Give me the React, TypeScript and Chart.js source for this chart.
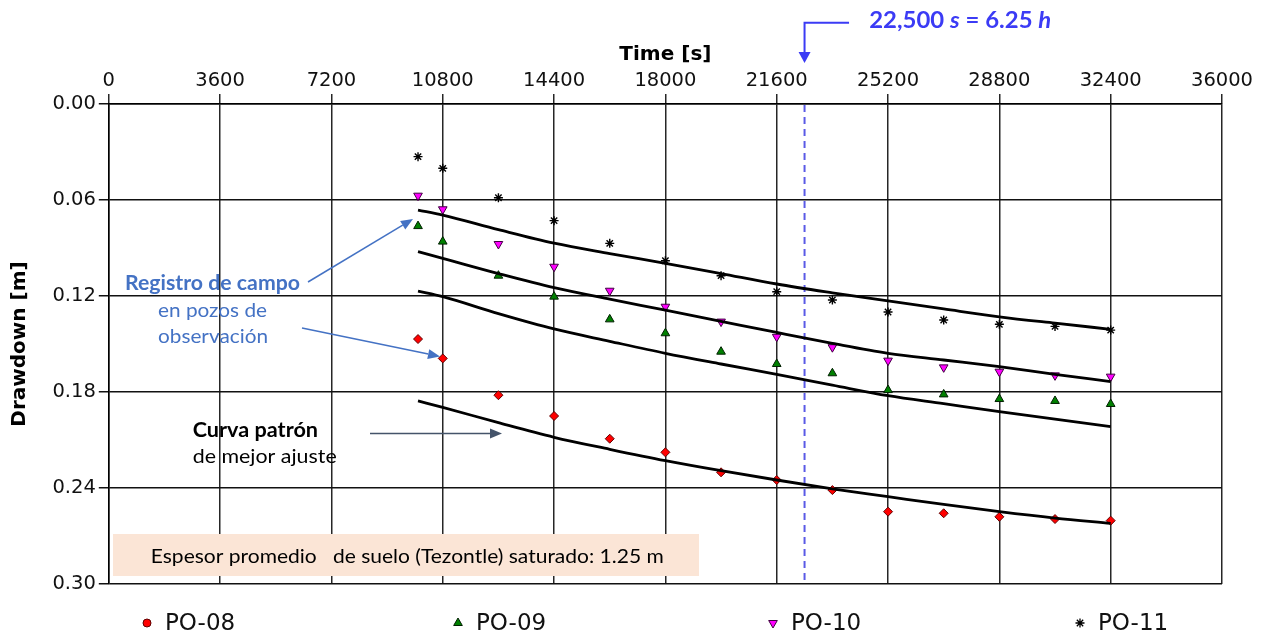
import React, { useEffect, useRef } from 'react';
import { Chart, registerables } from 'chart.js';
import { drawPoint } from 'chart.js/helpers';

Chart.register(...registerables);

// ---- Data ----
const obsTimes = [10000, 10800, 12600, 14400, 16200, 18000, 19800, 21600, 23400, 25200, 27000, 28800, 30600, 32400];
const po08 = [0.1469, 0.159, 0.182, 0.195, 0.2092, 0.2177, 0.2302, 0.235, 0.2413, 0.2548, 0.2558, 0.258, 0.2594, 0.2604];
const po09 = [0.0763, 0.086, 0.1073, 0.1204, 0.1346, 0.1433, 0.1548, 0.1625, 0.1683, 0.1788, 0.1815, 0.1844, 0.1856, 0.1875];
const po10 = [0.0573, 0.0658, 0.0875, 0.1017, 0.1167, 0.1267, 0.136, 0.1455, 0.152, 0.1604, 0.1646, 0.1673, 0.1696, 0.1704];
const po11 = [0.0329, 0.0402, 0.0586, 0.0729, 0.0871, 0.098, 0.1073, 0.1173, 0.1225, 0.130, 0.135, 0.1377, 0.139, 0.1413];

const curveTimes = [10000, 10800, 12600, 14400, 16200, 18000, 19800, 21600, 23400, 25200, 27000, 28800, 30600, 32400];
const curve1 = [0.0663, 0.0694, 0.0785, 0.087, 0.0935, 0.0996, 0.106, 0.1125, 0.118, 0.1231, 0.1281, 0.133, 0.137, 0.1408];
const curve2 = [0.0923, 0.0965, 0.106, 0.1148, 0.122, 0.1288, 0.1358, 0.1428, 0.1496, 0.1558, 0.160, 0.1642, 0.169, 0.1735];
const curve3 = [0.1169, 0.1204, 0.131, 0.1406, 0.1483, 0.1558, 0.1625, 0.169, 0.1757, 0.1823, 0.1873, 0.1923, 0.197, 0.2017];
const curve4 = [0.1856, 0.1896, 0.1992, 0.2083, 0.2158, 0.2229, 0.2292, 0.235, 0.2405, 0.2454, 0.2503, 0.2548, 0.2588, 0.2621];

const xTicks = [0, 3600, 7200, 10800, 14400, 18000, 21600, 25200, 28800, 32400, 36000];
const yTicks = [0, 0.06, 0.12, 0.18, 0.24, 0.30];
const markerTime = 22500;

const seriesNames = ['PO-08', 'PO-09', 'PO-10', 'PO-11'];

const TICK_FONT = 'DejaVu Sans';
const NOTE_FONT = 'Lato';

function pts(xs: number[], ys: number[]) {
  return xs.map((x, i) => ({ x, y: ys[i] }));
}

function drawArrow(ctx: CanvasRenderingContext2D, x1: number, y1: number, x2: number, y2: number, color: string, lw: number, headLen: number, headHalf: number) {
  const ang = Math.atan2(y2 - y1, x2 - x1);
  const bx = x2 - Math.cos(ang) * headLen;
  const by = y2 - Math.sin(ang) * headLen;
  ctx.save();
  ctx.strokeStyle = color;
  ctx.fillStyle = color;
  ctx.lineWidth = lw;
  ctx.beginPath();
  ctx.moveTo(x1, y1);
  ctx.lineTo(bx, by);
  ctx.stroke();
  ctx.beginPath();
  ctx.moveTo(x2, y2);
  ctx.lineTo(bx + Math.sin(ang) * headHalf, by - Math.cos(ang) * headHalf);
  ctx.lineTo(bx - Math.sin(ang) * headHalf, by + Math.cos(ang) * headHalf);
  ctx.closePath();
  ctx.fill();
  ctx.restore();
}

function fitText(ctx: CanvasRenderingContext2D, text: string, x: number, baseY: number, width: number, font: string, color: string) {
  ctx.save();
  ctx.font = font;
  ctx.fillStyle = color;
  ctx.textAlign = 'left';
  ctx.textBaseline = 'alphabetic';
  const w = ctx.measureText(text).width;
  ctx.translate(x, baseY);
  ctx.scale(width / w, 1);
  ctx.fillText(text, 0, 0);
  ctx.restore();
}

const annotationPlugin = {
  id: 'annotations',
  beforeDatasetsDraw(chart: any) {
    const { ctx, chartArea: ca, scales } = chart;
    const xm = scales.x.getPixelForValue(markerTime);
    ctx.save();
    ctx.strokeStyle = '#5a5ae6';
    ctx.lineWidth = 2;
    ctx.setLineDash([7, 5]);
    ctx.beginPath();
    ctx.moveTo(xm, ca.top + 1);
    ctx.lineTo(xm, ca.bottom);
    ctx.stroke();
    ctx.restore();
  },
  afterDatasetsDraw(chart: any) {
    const { ctx, chartArea: ca, scales } = chart;
    const P = (x: number, y: number): [number, number] => [x - 108.8 + ca.left, y - 104 + ca.top];
    const xm = scales.x.getPixelForValue(markerTime);

    // Top annotation arrow
    const blue = '#3b3bf5';
    ctx.save();
    ctx.strokeStyle = blue;
    ctx.fillStyle = blue;
    ctx.lineWidth = 2;
    ctx.beginPath();
    ctx.moveTo(xm + 44.5, 22.7);
    ctx.lineTo(xm, 22.7);
    ctx.lineTo(xm, 54);
    ctx.stroke();
    ctx.beginPath();
    ctx.moveTo(xm - 6, 52);
    ctx.lineTo(xm + 6, 52);
    ctx.lineTo(xm, 63);
    ctx.closePath();
    ctx.fill();
    ctx.restore();

    // Top annotation text: 22,500 s = 6.25 h
    const segs: [string, string][] = [
      ['22,500 ', `bold 22px ${NOTE_FONT}`],
      ['s', `italic bold 22px ${NOTE_FONT}`],
      [' = 6.25 ', `bold 22px ${NOTE_FONT}`],
      ['h', `italic bold 22px ${NOTE_FONT}`],
    ];
    ctx.save();
    let total = 0;
    const widths = segs.map(([t, f]) => { ctx.font = f; const w = ctx.measureText(t).width; total += w; return w; });
    const targetW = 182;
    const sc = targetW / total;
    ctx.translate(xm + 64.7, 28.3);
    ctx.scale(sc, 1);
    ctx.fillStyle = blue;
    ctx.textBaseline = 'alphabetic';
    let cx = 0;
    segs.forEach(([t, f], i) => { ctx.font = f; ctx.fillText(t, cx, 0); cx += widths[i]; });
    ctx.restore();

    // Field record annotation
    const noteBlue = '#4472c4';
    let p = P(125, 290);
    fitText(ctx, 'Registro de campo', p[0], p[1], 175, `bold 21px ${NOTE_FONT}`, noteBlue);
    p = P(158, 317.3);
    fitText(ctx, 'en pozos de', p[0], p[1], 109, `20px ${NOTE_FONT}`, noteBlue);
    p = P(158, 343.3);
    fitText(ctx, 'observación', p[0], p[1], 110, `20px ${NOTE_FONT}`, noteBlue);

    let a = P(308, 282), b = P(413, 219);
    drawArrow(ctx, a[0], a[1], b[0], b[1], noteBlue, 1.5, 12, 5);
    a = P(302, 328); b = P(440, 356.5);
    drawArrow(ctx, a[0], a[1], b[0], b[1], noteBlue, 1.5, 12, 5);

    // Type-curve annotation
    p = P(192.7, 436.7);
    fitText(ctx, 'Curva patrón', p[0], p[1], 125.3, `bold 21px ${NOTE_FONT}`, '#000');
    p = P(192.7, 462.7);
    fitText(ctx, 'de mejor ajuste', p[0], p[1], 144, `20px ${NOTE_FONT}`, '#000');
    a = P(370, 433.5); b = P(502, 433.5);
    drawArrow(ctx, a[0], a[1], b[0], b[1], '#44546a', 1.5, 12, 5);

    // Info box
    const b1 = P(113, 534), b2 = P(699, 576);
    ctx.save();
    ctx.fillStyle = '#fbe5d6';
    ctx.fillRect(b1[0], b1[1], b2[0] - b1[0], b2[1] - b1[1]);
    ctx.restore();
    p = P(150.8, 563.3);
    fitText(ctx, 'Espesor promedio   de suelo (Tezontle) saturado: 1.25 m', p[0], p[1], 513, `20px ${NOTE_FONT}`, '#000');

    // Legend
    const ly = ca.bottom + 39;
    const lx = [147, 458, 773, 1080];
    const styles = [
      { pointStyle: 'circle', radius: 4, rotation: 0, borderWidth: 1, fill: '#ff0000', stroke: '#600000' },
      { pointStyle: 'triangle', radius: 5, rotation: 0, borderWidth: 1, fill: '#008000', stroke: '#002000' },
      { pointStyle: 'triangle', radius: 5, rotation: 180, borderWidth: 1, fill: '#ff00ff', stroke: '#400040' },
      { pointStyle: 'star', radius: 4.5, rotation: 0, borderWidth: 1.3, fill: '#000', stroke: '#000' },
    ];
    ctx.save();
    seriesNames.forEach((name, i) => {
      const s = styles[i];
      const x = lx[i] - 108.8 + ca.left;
      ctx.fillStyle = s.fill;
      ctx.strokeStyle = s.stroke;
      ctx.lineWidth = s.borderWidth;
      drawPoint(ctx, { pointStyle: s.pointStyle, radius: s.radius, rotation: s.rotation, borderWidth: s.borderWidth } as any, x, ly);
      ctx.font = `23px ${TICK_FONT}`;
      ctx.fillStyle = '#111';
      ctx.textBaseline = 'middle';
      ctx.textAlign = 'left';
      ctx.fillText(name, x + 18, ly + 1);
    });
    ctx.restore();
  },
};

export default function App() {
  const canvasRef = useRef<HTMLCanvasElement | null>(null);

  useEffect(() => {
    const canvas = canvasRef.current;
    if (!canvas) return;
    const pointCommon = { showLine: false };
    const curveCommon = {
      showLine: true,
      pointRadius: 0,
      borderColor: '#000',
      borderWidth: 2.8,
      cubicInterpolationMode: 'monotone' as const,
      fill: false,
    };
    const chart = new Chart(canvas, {
      type: 'scatter',
      data: {
        datasets: [
          { label: 'c1', data: pts(curveTimes, curve1), ...curveCommon },
          { label: 'c2', data: pts(curveTimes, curve2), ...curveCommon },
          { label: 'c3', data: pts(curveTimes, curve3), ...curveCommon },
          { label: 'c4', data: pts(curveTimes, curve4), ...curveCommon },
          {
            label: seriesNames[0], data: pts(obsTimes, po08), ...pointCommon,
            pointStyle: 'rectRot', pointRadius: 4.5, backgroundColor: '#ff0000', borderColor: '#600000', borderWidth: 1,
          },
          {
            label: seriesNames[1], data: pts(obsTimes, po09), ...pointCommon,
            pointStyle: 'triangle', pointRadius: 5, backgroundColor: '#008000', borderColor: '#002000', borderWidth: 1,
          },
          {
            label: seriesNames[2], data: pts(obsTimes, po10), ...pointCommon,
            pointStyle: 'triangle', pointRotation: 180, pointRadius: 5, backgroundColor: '#ff00ff', borderColor: '#400040', borderWidth: 1,
          },
          {
            label: seriesNames[3], data: pts(obsTimes, po11), ...pointCommon,
            pointStyle: 'star', pointRadius: 4.5, backgroundColor: '#000', borderColor: '#000', borderWidth: 1.4,
          },
        ],
      },
      options: {
        responsive: false,
        maintainAspectRatio: false,
        animation: false,
        events: [],
        layout: { padding: { left: 0, top: 0, right: 43, bottom: 52 } },
        plugins: {
          legend: { display: false },
          tooltip: { enabled: false },
        },
        scales: {
          x: {
            type: 'linear',
            position: 'top',
            min: 0,
            max: 36000,
            afterBuildTicks: (s: any) => { s.ticks = xTicks.map((v) => ({ value: v })); },
            afterFit: (s: any) => { s.height = 104; },
            ticks: {
              autoSkip: false,
              maxRotation: 0,
              padding: 1,
              color: '#111',
              font: { family: TICK_FONT, size: 19.5 },
              callback: (v: any) => String(v),
            },
            grid: { color: '#262626', lineWidth: 1.5, tickLength: 10, drawTicks: true },
            border: { display: true, color: '#000', width: 1.5 },
            title: {
              display: true,
              text: 'Time [s]',
              color: '#000',
              font: { family: TICK_FONT, size: 20, weight: 'bold' },
              padding: { top: 43, bottom: 0 },
            },
          },
          y: {
            type: 'linear',
            reverse: true,
            min: 0,
            max: 0.3,
            afterBuildTicks: (s: any) => { s.ticks = yTicks.map((v) => ({ value: v })); },
            afterFit: (s: any) => { s.width = 108.8; },
            ticks: {
              autoSkip: false,
              padding: 3,
              color: '#111',
              font: { family: TICK_FONT, size: 19.5 },
              callback: (v: any) => Number(v).toFixed(2),
            },
            grid: { color: '#111', lineWidth: 1.5, tickLength: 10, drawTicks: true },
            border: { display: true, color: '#000', width: 1.5 },
            title: {
              display: true,
              text: 'Drawdown [m]',
              color: '#000',
              font: { family: TICK_FONT, size: 20, weight: 'bold' },
              padding: { top: 8, bottom: 0 },
            },
          },
        },
      },
      plugins: [annotationPlugin],
    } as any);
    return () => chart.destroy();
  }, []);

  return (
    <div style={{ position: 'absolute', left: 0, top: 0, width: 1265, height: 636, background: '#fff' }}>
      <canvas ref={canvasRef} width={1265} height={636} />
    </div>
  );
}
